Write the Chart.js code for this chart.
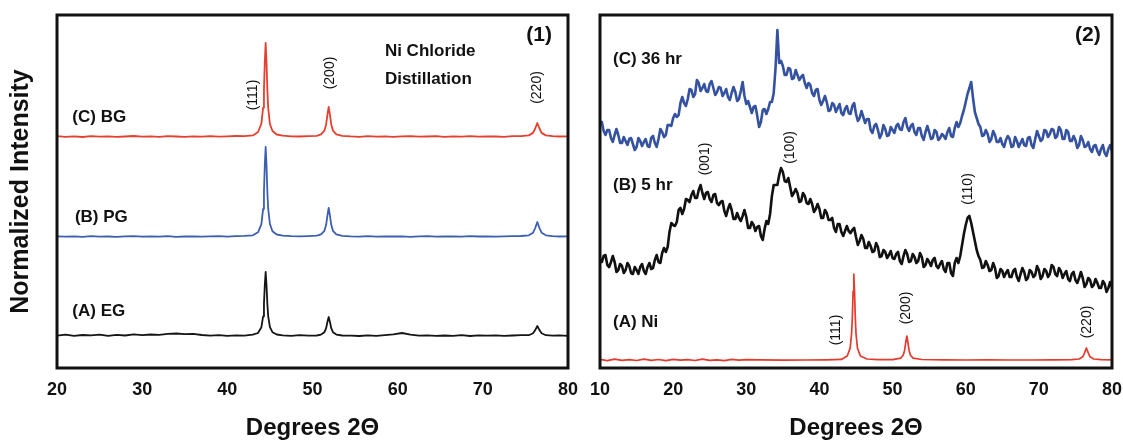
<!DOCTYPE html>
<html>
<head>
<meta charset="utf-8">
<title>XRD patterns</title>
<script src="https://cdn.jsdelivr.net/npm/chart.js@4.4.1/dist/chart.umd.min.js"></script>
<style>
    html, body { margin: 0; padding: 0; background: #fff; }
    #wrap { position: relative; width: 1123px; height: 442px; }
    #left { position: absolute; left: 0; top: 0; }
    #right { position: absolute; left: 584px; top: 0; }
</style>
</head>
<body>
<div id="wrap">
    <canvas id="left" width="584" height="442"></canvas>
    <canvas id="right" width="539" height="442"></canvas>
</div>
<script>
"use strict"

// ---- panel (1): Ni chloride distillation, three glycols ----
const leftTicks = [20, 30, 40, 50, 60, 70, 80];
const leftTheta = [20, 21, 22, 23, 24, 25, 26, 27, 28, 29, 30, 31, 32, 33, 34, 35, 36, 37, 38, 39, 40, 41, 42, 43,
    43.6, 44.0, 44.2, 44.3, 44.4, 44.5, 44.6, 44.7, 44.8, 45.0, 45.3, 45.8,
    46.5, 47.5, 48.5, 49.5, 50.5,
    51.0, 51.4, 51.6, 51.75, 51.9, 52.05, 52.2, 52.4, 52.8, 53.5,
    54.5, 55.5, 56.5, 57.5, 58.5, 59.5, 60.5, 61.5, 62.5, 63.5, 64.5, 65.5, 66.5, 67.5, 68.5, 69.5, 70.5, 71.5, 72.5, 73.5, 74.5,
    75.4, 75.9, 76.15, 76.4, 76.65, 76.9, 77.4,
    78.2, 79, 80];
const bgCounts = [231.8, 231.2, 231.6, 231.0, 231.9, 231.4, 231.7, 231.1, 231.5, 232.0, 231.3, 231.6, 231.2, 231.8, 231.5, 231.1, 231.7, 231.4, 231.9, 231.3, 231.6, 232.0, 231.8, 232.6,
    236, 244.4, 260.3, 278.3, 306.3, 325, 306, 278, 260, 244, 237, 233.5,
    232.3, 231.7, 231.5, 231.9, 232.2,
    233.6, 237.4, 243.6, 253.2, 261, 253.2, 243.6, 237.4, 233.6, 232.2,
    231.6, 231.2, 231.8, 231.4, 231.7, 231.1, 231.6, 231.9, 231.3, 231.5, 231.8, 231.2, 231.6, 231.4, 231.9, 231.3, 231.7, 231.5, 231.2, 231.8, 231.9,
    232.6, 235.1, 239.5, 245, 239.5, 235.1, 232.6,
    231.9, 231.5, 231.6];
const pgCounts = [131.7, 131.3, 131.6, 131.2, 131.8, 131.4, 131.5, 131.1, 131.7, 131.9, 131.3, 131.6, 131.4, 131.8, 131.2, 131.5, 131.7, 131.3, 131.6, 131.9, 131.4, 131.8, 132.1, 132.7,
    135.7, 143.9, 159.1, 176.3, 203.1, 221, 203, 176, 159, 144, 136.8, 133.5,
    132.4, 131.8, 131.6, 131.9, 132.3,
    133.6, 137.2, 143.2, 152.4, 160, 152.4, 143.2, 137.2, 133.6, 132.2,
    131.7, 131.4, 131.8, 131.3, 131.6, 131.5, 131.7, 131.2, 131.6, 131.8, 131.4, 131.5, 131.7, 131.3, 131.8, 131.5, 131.6, 131.4, 131.7, 131.9, 132.0,
    132.7, 135.3, 140, 146, 140, 135.3, 132.7,
    131.8, 131.5, 131.6];
const egCounts = [32.4, 33.3, 32.1, 33.0, 32.6, 33.4, 32.2, 33.1, 32.5, 33.6, 32.8, 33.5, 33.2, 34.1, 34.5, 33.8, 34.2, 33.0, 32.4, 32.9, 32.2, 32.7, 32.3, 33.4,
    35, 40.8, 51.7, 64, 83.2, 96, 83, 64, 51.7, 40.8, 35.8, 33.5,
    32.6, 32.1, 32.8, 32.3, 32.5,
    33.4, 35.8, 39.8, 46, 51, 46, 39.8, 35.8, 33.4, 32.5,
    32.4, 32.0, 32.7, 32.2, 32.9, 33.6, 35.0, 33.4, 32.3, 32.7, 32.1, 32.5, 32.2, 32.8, 32.0, 32.6, 32.3, 32.7, 32.1, 32.5, 32.8,
    32.8, 34.7, 37.9, 42, 37.9, 34.7, 32.8,
    32.3, 32.6, 32.2];

// ---- panel (2): Ni reference and two milling times ----
const rightTicks = [10, 20, 30, 40, 50, 60, 70, 80];
const hrTheta = [
    10, 10.25, 10.5, 10.75, 11, 11.25, 11.5, 11.75, 12, 12.25, 12.5, 12.75, 13, 13.25, 13.5, 13.75, 14, 14.25, 14.5, 14.75,
    15, 15.25, 15.5, 15.75, 16, 16.25, 16.5, 16.75, 17, 17.25, 17.5, 17.75, 18, 18.25, 18.5, 18.75, 19, 19.25, 19.5, 19.75,
    20, 20.25, 20.5, 20.75, 21, 21.25, 21.5, 21.75, 22, 22.25, 22.5, 22.75, 23, 23.25, 23.5, 23.75, 24, 24.25, 24.5, 24.75,
    25, 25.25, 25.5, 25.75, 26, 26.25, 26.5, 26.75, 27, 27.25, 27.5, 27.75, 28, 28.25, 28.5, 28.75, 29, 29.25, 29.5, 29.75,
    30, 30.25, 30.5, 30.75, 31, 31.25, 31.5, 31.75, 32, 32.25, 32.5, 32.75, 33, 33.25, 33.5, 33.75, 34, 34.25, 34.5, 34.75,
    35, 35.25, 35.5, 35.75, 36, 36.25, 36.5, 36.75, 37, 37.25, 37.5, 37.75, 38, 38.25, 38.5, 38.75, 39, 39.25, 39.5, 39.75,
    40, 40.25, 40.5, 40.75, 41, 41.25, 41.5, 41.75, 42, 42.25, 42.5, 42.75, 43, 43.25, 43.5, 43.75, 44, 44.25, 44.5, 44.75,
    45, 45.25, 45.5, 45.75, 46, 46.25, 46.5, 46.75, 47, 47.25, 47.5, 47.75, 48, 48.25, 48.5, 48.75, 49, 49.25, 49.5, 49.75,
    50, 50.25, 50.5, 50.75, 51, 51.25, 51.5, 51.75, 52, 52.25, 52.5, 52.75, 53, 53.25, 53.5, 53.75, 54, 54.25, 54.5, 54.75,
    55, 55.25, 55.5, 55.75, 56, 56.25, 56.5, 56.75, 57, 57.25, 57.5, 57.75, 58, 58.25, 58.5, 58.75, 59, 59.25, 59.5, 59.75,
    60, 60.25, 60.5, 60.75, 61, 61.25, 61.5, 61.75, 62, 62.25, 62.5, 62.75, 63, 63.25, 63.5, 63.75, 64, 64.25, 64.5, 64.75,
    65, 65.25, 65.5, 65.75, 66, 66.25, 66.5, 66.75, 67, 67.25, 67.5, 67.75, 68, 68.25, 68.5, 68.75, 69, 69.25, 69.5, 69.75,
    70, 70.25, 70.5, 70.75, 71, 71.25, 71.5, 71.75, 72, 72.25, 72.5, 72.75, 73, 73.25, 73.5, 73.75, 74, 74.25, 74.5, 74.75,
    75, 75.25, 75.5, 75.75, 76, 76.25, 76.5, 76.75, 77, 77.25, 77.5, 77.75, 78, 78.25, 78.5, 78.75, 79, 79.25, 79.5, 79.75,
    80];
const hr36Counts = [
    244, 246, 237, 233, 238, 238, 230, 226, 233, 239, 233, 225, 225, 231, 227, 223, 229, 230, 224, 218,
    221, 230, 227, 222, 226, 229, 222, 221, 230, 232, 225, 221, 229, 239, 236, 231, 233, 243, 243, 242,
    250, 254, 251, 253, 265, 271, 265, 262, 269, 279, 278, 271, 274, 288, 285, 277, 280, 284, 277, 276,
    284, 287, 280, 273, 276, 281, 280, 272, 275, 279, 271, 268, 275, 281, 276, 267, 269, 277, 286, 272,
    264, 267, 261, 255, 261, 262, 252, 241, 246, 258, 259, 254, 259, 266, 266, 275, 300, 338, 305, 307,
    302, 293, 293, 300, 299, 289, 290, 298, 293, 288, 291, 293, 285, 280, 285, 283, 275, 272, 278, 279,
    268, 263, 267, 272, 266, 257, 258, 265, 263, 256, 260, 264, 255, 253, 259, 262, 255, 254, 262, 265,
    254, 247, 250, 257, 251, 245, 249, 249, 238, 235, 242, 244, 238, 230, 234, 243, 239, 232, 233, 241,
    238, 235, 242, 244, 239, 238, 246, 250, 241, 237, 242, 244, 236, 233, 240, 240, 232, 228, 236, 242,
    236, 229, 230, 238, 236, 228, 230, 234, 232, 229, 236, 240, 232, 231, 240, 246, 241, 245, 252, 258,
    266, 274, 280, 286, 270, 256, 250, 244, 241, 232, 233, 238, 234, 226, 229, 237, 233, 226, 226, 230,
    224, 221, 228, 232, 229, 221, 222, 231, 227, 221, 225, 229, 223, 222, 230, 231, 223, 220, 229, 237,
    232, 227, 229, 238, 237, 231, 234, 239, 238, 230, 232, 241, 238, 229, 229, 238, 236, 227, 227, 232,
    228, 220, 223, 232, 228, 221, 222, 226, 219, 216, 222, 223, 217, 213, 219, 223, 215, 212, 219, 223,
    217];
const hr5Counts = [
    109, 106, 112, 113, 103, 101, 106, 112, 106, 96, 98, 104, 102, 95, 98, 105, 102, 95, 94, 101,
    98, 94, 101, 104, 97, 94, 101, 105, 99, 100, 108, 113, 106, 105, 115, 120, 116, 121, 136, 145,
    143, 142, 146, 158, 160, 154, 159, 169, 168, 166, 173, 177, 170, 170, 178, 183, 175, 169, 175, 176,
    169, 166, 173, 174, 165, 163, 166, 167, 157, 152, 159, 164, 158, 149, 149, 155, 150, 147, 152, 158,
    151, 140, 140, 146, 143, 137, 141, 142, 132, 128, 139, 147, 144, 154, 172, 183, 183, 183, 193, 200,
    196, 187, 186, 190, 181, 172, 175, 179, 175, 166, 167, 175, 172, 165, 164, 169, 164, 156, 159, 164,
    159, 150, 150, 158, 155, 148, 148, 150, 140, 136, 144, 144, 136, 132, 137, 142, 137, 135, 138, 140,
    131, 123, 127, 133, 129, 120, 120, 126, 122, 116, 117, 125, 121, 111, 112, 118, 116, 110, 113, 117,
    110, 109, 114, 116, 107, 104, 112, 118, 114, 106, 107, 114, 111, 105, 107, 115, 111, 101, 103, 109,
    106, 102, 108, 110, 102, 100, 104, 107, 99, 96, 105, 105, 95, 92, 105, 110, 105, 112, 123, 134,
    143, 150, 152, 145, 136, 127, 118, 112, 108, 100, 101, 107, 103, 97, 98, 105, 100, 90, 92, 99,
    97, 91, 95, 98, 91, 91, 97, 99, 91, 87, 94, 100, 96, 88, 90, 98, 96, 91, 93, 102,
    98, 89, 92, 99, 97, 91, 94, 103, 101, 94, 92, 100, 97, 90, 94, 97, 89, 87, 94, 96,
    88, 85, 90, 96, 90, 81, 84, 90, 88, 81, 83, 89, 85, 80, 80, 87, 84, 76, 80, 86,
    81];
const niTheta = [10, 11, 12, 13, 14, 15, 16, 17, 18, 19, 20, 21, 22, 23, 24, 25, 26, 27, 28, 29, 30,
    32, 35, 38, 41, 43,
    43.8, 44.2, 44.4, 44.5, 44.6, 44.7, 44.8, 44.9, 45.0, 45.2, 45.6, 46.5,
    48, 50,
    51.1, 51.45, 51.65, 51.8, 51.95, 52.1, 52.25, 52.45, 52.8,
    54, 57, 60, 63, 66, 69, 72, 74.5,
    75.5, 76.0, 76.25, 76.5, 76.75, 77.0, 77.5, 78.5, 80];
const niCounts = [8.6, 7.4, 8.9, 7.7, 8.3, 7.5, 8.8, 7.6, 8.5, 7.3, 8.7, 7.8, 8.4, 7.5, 8.9, 7.6, 8.2, 7.4, 8.6, 7.8, 8.3,
    8.1, 7.9, 8.0, 8.2, 8.6,
    12, 19.9, 34.5, 51, 76.8, 94, 76.8, 51, 34.5, 19.9, 12, 9,
    8.3, 8.4,
    9.9, 12.8, 17.8, 25.6, 32, 25.6, 17.8, 12.8, 9.9,
    8.5, 8.2, 8.0, 8.1, 8.0, 8.0, 8.1, 8.4,
    9, 11.2, 15.1, 20, 15.1, 11.2, 9, 8.3, 8.1];

const FONT = 'Arial, "Liberation Sans", Helvetica, sans-serif';
Chart.defaults.font.family = FONT;
Chart.defaults.color = "#111";

function toPoints(xs, ys) {
    return xs.map((x, i) => ({ x: x, y: ys[i] }));
}

const leftNotes = [
    { text: "(C) BG", x: 21.8, y: 251, font: "bold 17px " + FONT },
    { text: "(B) PG", x: 22.1, y: 151, font: "bold 17px " + FONT },
    { text: "(A) EG", x: 21.8, y: 57, font: "bold 17px " + FONT },
    { text: "Ni Chloride", x: 58.5, y: 317, font: "bold 17px " + FONT },
    { text: "Distillation", x: 58.5, y: 289, font: "bold 17px " + FONT },
    { text: "(1)", x: 76.6, y: 333, font: "bold 21px " + FONT, align: "center" },
    { text: "(111)", x: 43.0, y: 273, font: "14px " + FONT, align: "center", rotate: true },
    { text: "(200)", x: 52.06, y: 295, font: "14px " + FONT, align: "center", rotate: true },
    { text: "(220)", x: 76.36, y: 280.5, font: "14px " + FONT, align: "center", rotate: true }
];
const rightNotes = [
    { text: "(C) 36 hr", x: 11.78, y: 309, font: "bold 17px " + FONT },
    { text: "(B) 5 hr", x: 11.78, y: 183, font: "bold 17px " + FONT },
    { text: "(A) Ni", x: 11.78, y: 45.3, font: "bold 17px " + FONT },
    { text: "(2)", x: 76.7, y: 333, font: "bold 21px " + FONT, align: "center" },
    { text: "(001)", x: 24.41, y: 209, font: "14px " + FONT, align: "center", rotate: true },
    { text: "(100)", x: 35.95, y: 220.5, font: "14px " + FONT, align: "center", rotate: true },
    { text: "(110)", x: 60.31, y: 179, font: "14px " + FONT, align: "center", rotate: true },
    { text: "(111)", x: 42.33, y: 38, font: "14px " + FONT, align: "center", rotate: true },
    { text: "(200)", x: 51.9, y: 60, font: "14px " + FONT, align: "center", rotate: true },
    { text: "(220)", x: 76.58, y: 46, font: "14px " + FONT, align: "center", rotate: true }
];

const framePlugin = {
    id: "frame",
    afterDatasetsDraw(chart) {
        const a = chart.chartArea;
        const ctx = chart.ctx;
        ctx.save();
        ctx.lineWidth = 3;
        ctx.strokeStyle = "#111";
        ctx.strokeRect(a.left, a.top, a.right - a.left, a.bottom - a.top);
        ctx.restore();
    }
};

function notesPlugin(items) {
    return {
        id: "notes",
        afterDatasetsDraw(chart) {
            const ctx = chart.ctx;
            const xs = chart.scales.x;
            const ys = chart.scales.y;
            for (const n of items) {
                ctx.save();
                ctx.translate(xs.getPixelForValue(n.x), ys.getPixelForValue(n.y));
                if (n.rotate) ctx.rotate(-Math.PI / 2);
                ctx.font = n.font;
                ctx.fillStyle = "#111";
                ctx.textAlign = n.align || "left";
                ctx.textBaseline = "middle";
                ctx.fillText(n.text, 0, 0);
                ctx.restore();
            }
        }
    };
}

function xAxis(min, max, ticks) {
    return {
        type: "linear",
        min: min,
        max: max,
        afterBuildTicks: (axis) => { axis.ticks = ticks.map((v) => ({ value: v })); },
        afterFit: (axis) => { axis.height = 74; },
        // tick marks are not drawn; the tick length only pushes the labels down
        grid: { display: false, drawTicks: true, tickLength: 11 },
        border: { display: false },
        ticks: { font: { size: 18, weight: "bold" }, color: "#111", padding: 0, maxRotation: 0, autoSkip: false },
        title: { display: true, text: "Degrees 2\u0398", color: "#111", font: { size: 24, weight: "bold" }, padding: { top: 0, bottom: -1 } }
    };
}

function lineSet(label, pts, color, width) {
    return {
        label: label,
        data: pts,
        borderColor: color,
        borderWidth: width,
        pointRadius: 0,
        tension: 0,
        fill: false,
        borderJoinStyle: "round"
    };
}

new Chart(document.getElementById("left"), {
    type: "line",
    data: {
        datasets: [
            lineSet("(C) BG", toPoints(leftTheta, bgCounts), "#e5402f", 1.8),
            lineSet("(B) PG", toPoints(leftTheta, pgCounts), "#3d5fb0", 1.8),
            lineSet("(A) EG", toPoints(leftTheta, egCounts), "#151515", 1.8)
        ]
    },
    options: {
        responsive: false,
        animation: false,
        devicePixelRatio: 1,
        layout: { padding: { left: 0, top: 15, right: 16, bottom: 0 } },
        plugins: { legend: { display: false }, tooltip: { enabled: false } },
        scales: {
            x: xAxis(20, 80, leftTicks),
            y: {
                min: 0,
                max: 353,
                afterFit: (axis) => { axis.width = 57; },
                grid: { display: false, drawTicks: false },
                border: { display: false },
                ticks: { display: false },
                title: { display: true, text: "Normalized Intensity", color: "#111", font: { size: 25, weight: "bold" }, padding: { top: 6, bottom: 0 } }
            }
        }
    },
    plugins: [framePlugin, notesPlugin(leftNotes)]
});

new Chart(document.getElementById("right"), {
    type: "line",
    data: {
        datasets: [
            lineSet("(C) 36 hr", toPoints(hrTheta, hr36Counts), "#34529f", 2.6),
            lineSet("(B) 5 hr", toPoints(hrTheta, hr5Counts), "#111111", 2.6),
            lineSet("(A) Ni", toPoints(niTheta, niCounts), "#e53a2e", 1.7)
        ]
    },
    options: {
        responsive: false,
        animation: false,
        devicePixelRatio: 1,
        layout: { padding: { left: 16, top: 15, right: 11, bottom: 0 } },
        plugins: { legend: { display: false }, tooltip: { enabled: false } },
        scales: {
            x: xAxis(10, 80, rightTicks),
            y: { display: false, min: 0, max: 353 }
        }
    },
    plugins: [framePlugin, notesPlugin(rightNotes)]
});
</script>
</body>
</html>
